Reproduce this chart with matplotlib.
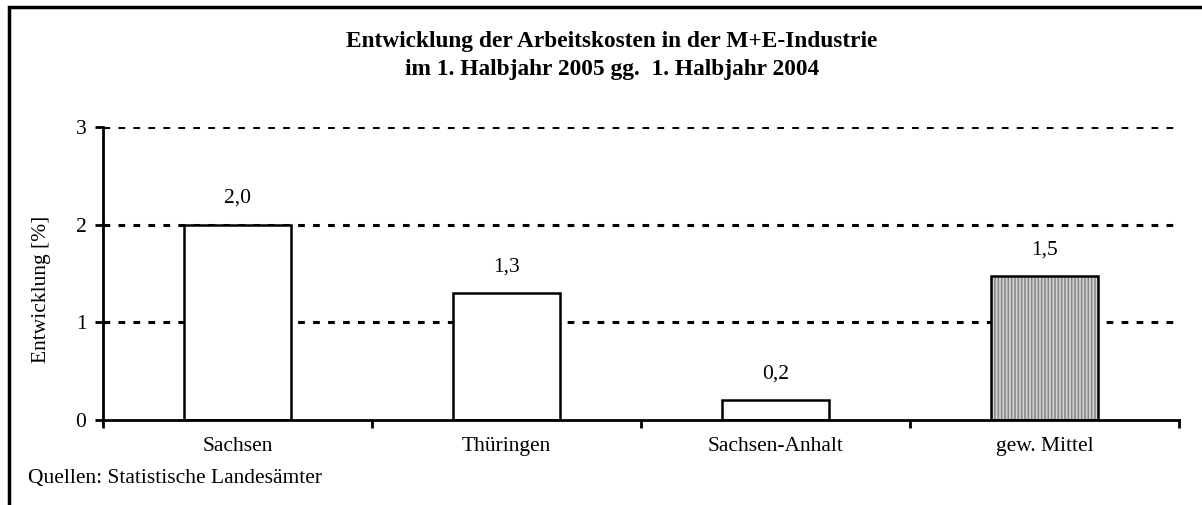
import matplotlib as mpl
import matplotlib.pyplot as plt
from matplotlib.patches import Rectangle

categories = ['Sachsen', 'Thüringen', 'Sachsen-Anhalt', 'gew. Mittel']
values = [2.0, 1.3, 0.2, 1.47]
yticks = [0, 1, 2, 3]

mpl.rcParams['font.family'] = ['Liberation Serif', 'DejaVu Serif']
mpl.rcParams['hatch.linewidth'] = 1.2
fs = 15.5

fig = plt.figure(figsize=(12.02, 5.05), dpi=100)
ax = fig.add_axes([103 / 1202, 1 - 420 / 505, (1179 - 103) / 1202, (420 - 127) / 505])

# outer frame (cut off on right and bottom like the original)
fig.patches.append(Rectangle((9 / 1202, -0.1), 1.1, 1.1 - 7 / 505,
                             transform=fig.transFigure, fill=False,
                             edgecolor='black', linewidth=2.5))

x = list(range(len(categories)))
for i, v in enumerate(values):
    if i == len(values) - 1:
        ax.bar(i, v, width=0.4, facecolor='#d4d4d4', edgecolor='#8a8a8a',
               hatch='|||||', linewidth=0, zorder=3)
        ax.bar(i, v, width=0.4, facecolor='none', edgecolor='black',
               linewidth=1.8, zorder=4)
    else:
        ax.bar(i, v, width=0.4, facecolor='white', edgecolor='black',
               linewidth=1.8, zorder=3)
    ax.annotate(f'{v:.1f}'.replace('.', ','), (i, v), xytext=(0, 12),
                textcoords='offset points', ha='center', va='bottom', fontsize=fs)

for y in yticks[1:]:
    ax.axhline(y, color='black', linestyle=(0, (2.2, 2.7)), linewidth=2.2, zorder=1)

ax.set_xlim(-0.5, 3.5)
ax.set_ylim(0, 3)
ax.set_yticks(yticks)
ax.set_yticklabels([str(t) for t in yticks], fontsize=fs)
ax.set_xticks([i + 0.5 for i in range(-1, 4)])
ax.set_xticklabels([])
ax.set_xticks(x, minor=True)
ax.set_xticklabels(categories, minor=True, fontsize=fs)
ax.tick_params(axis='x', which='minor', length=0, pad=12)
ax.tick_params(axis='x', which='major', length=6, width=2, direction='out')
ax.tick_params(axis='y', length=6, width=2, direction='out', pad=6)
for s in ['top', 'right']:
    ax.spines[s].set_visible(False)
ax.spines['left'].set_linewidth(2)
ax.spines['bottom'].set_linewidth(2)
ax.spines['left'].set_zorder(5)
ax.spines['bottom'].set_zorder(5)

fig.text(612 / 1202, 1 - 41 / 505, 'Entwicklung der Arbeitskosten in der M+E-Industrie',
         ha='center', va='center', fontsize=16.8, fontweight='bold')
fig.text(612 / 1202, 1 - 69 / 505, 'im 1. Halbjahr 2005 gg.  1. Halbjahr 2004',
         ha='center', va='center', fontsize=16.8, fontweight='bold')
fig.text(42 / 1202, 1 - 289 / 505, 'Entwicklung [%]', rotation=90,
         ha='center', va='center', fontsize=fs)
fig.text(28 / 1202, 1 - 478 / 505, 'Quellen: Statistische Landesämter',
         ha='left', va='center', fontsize=fs)

fig.savefig('out.png', dpi=100)
